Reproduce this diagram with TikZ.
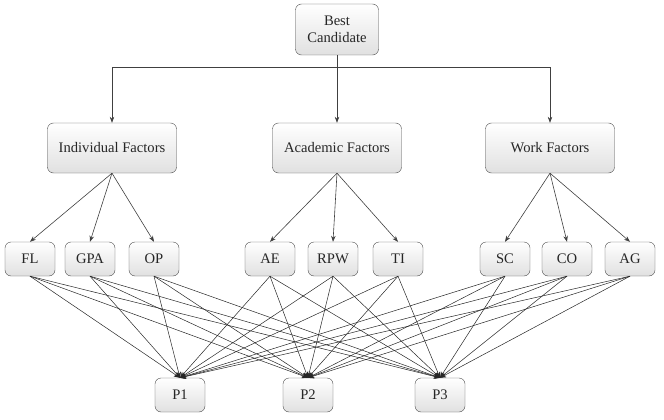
\documentclass[tikz,border=0pt]{standalone}
\usepackage{fontspec}
\setmainfont{Liberation Serif}
\usetikzlibrary{arrows.meta}
\begin{document}
\begin{tikzpicture}[x=1pt,y=-1pt,
  box/.style={draw=black!70,rounded corners=6pt,top color=white,bottom color=black!12,
    inner sep=0pt,font=\fontsize{14.6}{16.5}\selectfont,text=black!85,align=center},
  small/.style={box,minimum width=50pt,minimum height=34pt},
  fac/.style={box,minimum width=129pt,minimum height=50pt},
  arr/.style={-{Stealth[length=6pt,width=4.5pt]},black!75,line width=0.6pt},
  thin/.style={-{Stealth[length=6pt,width=5pt]},black!85,line width=0.5pt}]
\useasboundingbox (0,0) rectangle (664,420);
\node[box,minimum width=83pt,minimum height=51pt] (bc) at (337,29.5) {Best\\Candidate};
\node[fac] (ind) at (112,148) {Individual Factors};
\node[fac] (aca) at (337,148) {Academic Factors};
\node[fac] (wrk) at (550,148) {Work Factors};
\node[small] (fl) at (30,259) {FL};
\node[small] (gpa) at (90,259) {GPA};
\node[small] (op) at (154,259) {OP};
\node[small] (ae) at (270,259) {AE};
\node[small] (rpw) at (333,259) {RPW};
\node[small] (ti) at (398,259) {TI};
\node[small] (sc) at (505,259) {SC};
\node[small] (co) at (567,259) {CO};
\node[small] (ag) at (630,259) {AG};
\node[small] (p1) at (180,395) {P1};
\node[small] (p2) at (308,395) {P2};
\node[small] (p3) at (440,395) {P3};
\coordinate (j) at (337,67);
\draw[black!75,line width=0.6pt] (bc.south) -- (j);
\draw[arr] (j) -| (ind.north);
\draw[arr] (j) -| (wrk.north);
\draw[arr] (j) -- (aca.north);
\foreach \a/\b in {ind/fl,ind/gpa,ind/op,aca/ae,aca/rpw,aca/ti,wrk/sc,wrk/co,wrk/ag}
  \draw[arr] (\a.south) -- (\b.north);
\foreach \a in {fl,gpa,op,ae,rpw,ti,sc,co,ag}
  \foreach \b in {p1,p2,p3}
    \draw[thin] (\a.south) -- (\b.north);
\end{tikzpicture}
\end{document}
